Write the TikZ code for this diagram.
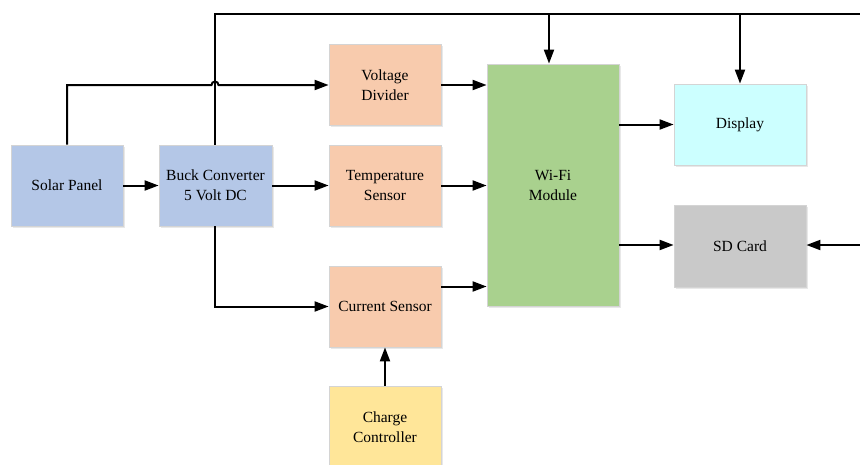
\documentclass[tikz,border=0pt]{standalone}
\usepackage{fontspec}
\setmainfont{Liberation Serif}
\usetikzlibrary{arrows.meta,shadows,calc}
\definecolor{cblue}{HTML}{B4C7E7}
\definecolor{cpeach}{HTML}{F8CBAD}
\definecolor{cgreen}{HTML}{A9D18E}
\definecolor{ccyan}{HTML}{CCFFFF}
\definecolor{cgray}{HTML}{C9C9C9}
\definecolor{cyellow}{HTML}{FFE699}
\definecolor{cedge}{HTML}{D4D4D4}
\tikzset{
  block/.style={draw=cedge, line width=0.8pt, align=center, inner sep=0pt,
    font=\fontsize{15.5}{20}\selectfont,
    drop shadow={opacity=0.18, shadow xshift=1.5pt, shadow yshift=-1.5pt}},
  small/.style={block, minimum width=112pt, minimum height=81pt},
  wide/.style={block, minimum width=132pt, minimum height=81pt},
  wire/.style={line width=2pt, line join=miter},
  arr/.style={wire, -{Triangle[length=14pt,width=10pt]}},
}
\begin{document}
\begin{tikzpicture}[x=1pt,y=1pt]
\useasboundingbox (0,0) rectangle (860,-464);
% blocks
\node[small, fill=cblue]   (solar) at (67,-185.5)  {Solar Panel};
\node[small, fill=cblue, minimum width=113pt] (buck) at (215.5,-185.5) {Buck Converter\\5 Volt DC};
\node[small, fill=cpeach]  (vd)    at (385,-85)    {Voltage\\Divider};
\node[small, fill=cpeach]  (temp)  at (385,-185.5) {Temperature\\Sensor};
\node[small, fill=cpeach]  (cur)   at (385,-306.5) {Current Sensor};
\node[small, fill=cyellow] (chg)   at (385,-427)   {Charge\\Controller};
\node[block, fill=cgreen, minimum width=132pt, minimum height=242pt] (wifi) at (553,-185) {Wi-Fi\\Module};
\node[wide, fill=ccyan]    (disp)  at (740,-124.5) {Display};
\node[wide, fill=cgray, minimum height=82pt] (sd) at (740,-246) {SD Card};
% helper points
\coordinate (hop)   at (215,-85);
\coordinate (ttop)  at (215,-14);
\coordinate (tend)  at (860,-14);
\coordinate (twifi) at (549,-14);
\coordinate (tdisp) at (740,-14);
\coordinate (sdin)  at (860,-245);
% connectors
\draw[arr] (solar.east) -- (buck.west);
\draw[arr] (buck.east) -- (temp.west);
\draw[arr] (solar.north) |- ($(hop)+(-3.5,0)$)
  arc[start angle=180, end angle=0, radius=3.5] -- (hop -| vd.west);
\draw[wire] (buck.north -| hop) -- (ttop) -- (tend);
\draw[arr] (twifi) -- (twifi |- wifi.north);
\draw[arr] (tdisp) -- (disp.north);
\draw[arr] (buck.south -| hop) |- (cur.west);
\draw[arr] (vd.east) -- (vd.east -| wifi.west);
\draw[arr] (temp.east) -- (temp.east -| wifi.west);
\draw[arr] ($(cur.east)+(0,20)$) -- ($(cur.east -| wifi.west)+(0,20)$);
\draw[arr] (chg.north) -- (cur.south);
\draw[arr] (wifi.east |- disp.west) -- (disp.west);
\draw[arr] (wifi.east |- sdin) -- (sd.west |- sdin);
\draw[arr] (sdin) -- (sd.east |- sdin);
\end{tikzpicture}
\end{document}
